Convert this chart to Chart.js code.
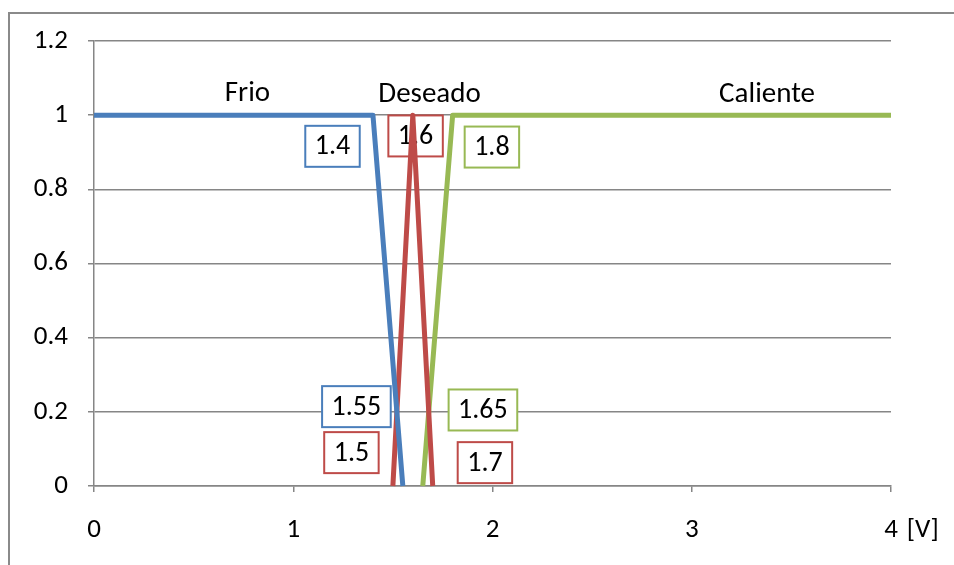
<!DOCTYPE html>
<html>
<head>
<meta charset="utf-8">
<script src="https://cdn.jsdelivr.net/npm/chart.js@4.4.1/dist/chart.umd.min.js"></script>
<style>
  html, body { margin: 0; padding: 0; background: #fff; overflow: hidden; }
  #wrap { position: relative; width: 954px; height: 565px; }
</style>
</head>
<body>
<div id="wrap"><canvas id="c" width="954" height="565"></canvas></div>
<script>
// ---- data ----
const xTicks = [0, 1, 2, 3, 4];
const yTicks = [0, 0.2, 0.4, 0.6, 0.8, 1, 1.2];
const seriesNames = ['Frio', 'Deseado', 'Caliente'];
const frioX = [0, 1.4, 1.55];
const frioY = [1, 1, 0];
const deseadoX = [1.5, 1.6, 1.7];
const deseadoY = [0, 1, 0];
const calienteX = [1.65, 1.8, 4];
const calienteY = [0, 1, 1];
const unitLabel = '[V]';

// ---- styles / placement (not data) ----
const colors = ['#4A7EBB', '#BE4B48', '#98B954'];
const FONT = 'Carlito, Lato, "Open Sans", sans-serif';
const FS = 27;      // tick labels
const FS_NAME = 29; // series names
const FS_BOX = 28;  // boxed values
// name label anchors (data coords)
const namePos = [[0.770, 1.057], [1.684, 1.054], [3.378, 1.054]];
// breakpoint boxes: [series index, point index, x, y]
const boxPos = [
  [0, 1, 1.197, 0.916],
  [1, 1, 1.614, 0.944],
  [2, 1, 1.997, 0.914],
  [0, 2, 1.317, 0.214],
  [1, 0, 1.292, 0.090],
  [2, 0, 1.952, 0.205],
  [1, 2, 1.962, 0.063]
];
const seriesX = [frioX, deseadoX, calienteX];
const seriesY = [frioY, deseadoY, calienteY];

function pts(xs, ys) { return xs.map((x, i) => ({ x: x, y: ys[i] })); }

const framePlugin = {
  id: 'frame',
  beforeDraw(chart) {
    const ctx = chart.ctx;
    ctx.save();
    ctx.strokeStyle = '#8a8a8a';
    ctx.lineWidth = 2;
    ctx.strokeRect(9, 13, 2000, 2000);
    ctx.restore();
  }
};

const labelPlugin = {
  id: 'labels',
  beforeDatasetsDraw(chart) {
    const ctx = chart.ctx;
    const xs = chart.scales.x, ys = chart.scales.y;
    ctx.save();
    ctx.textAlign = 'center';
    ctx.textBaseline = 'middle';
    ctx.fillStyle = '#000';
    // series names
    ctx.font = FS_NAME + 'px ' + FONT;
    seriesNames.forEach((n, i) => {
      ctx.fillText(n, xs.getPixelForValue(namePos[i][0]), ys.getPixelForValue(namePos[i][1]));
    });
    // breakpoint boxes
    ctx.font = FS_BOX + 'px ' + FONT;
    boxPos.forEach(b => {
      const txt = String(seriesX[b[0]][b[1]]);
      const cx = xs.getPixelForValue(b[2]);
      const cy = ys.getPixelForValue(b[3]);
      const w = ctx.measureText(txt).width + 19;
      const h = 41;
      ctx.fillStyle = '#fff';
      ctx.fillRect(cx - w / 2, cy - h / 2, w, h);
      ctx.strokeStyle = colors[b[0]];
      ctx.lineWidth = 2;
      ctx.strokeRect(cx - w / 2, cy - h / 2, w, h);
      ctx.fillStyle = '#000';
      ctx.fillText(txt, cx, cy + 1);
    });
    ctx.restore();
  },
  afterDraw(chart) {
    const ctx = chart.ctx;
    const xs = chart.scales.x;
    ctx.save();
    ctx.font = FS + 'px ' + FONT;
    ctx.textBaseline = 'middle';
    ctx.fillStyle = '#000';
    const lastX = xTicks[xTicks.length - 1];
    const lw = ctx.measureText(String(lastX)).width;
    ctx.textAlign = 'left';
    ctx.fillText(unitLabel, xs.getPixelForValue(lastX) + lw / 2 + 9, 530);
    ctx.restore();
  }
};

new Chart(document.getElementById('c'), {
  type: 'scatter',
  data: {
    datasets: seriesNames.map((n, i) => ({
      label: n,
      data: pts(seriesX[i], seriesY[i]),
      showLine: true,
      borderColor: colors[i],
      backgroundColor: colors[i],
      borderWidth: 5,
      pointRadius: 0,
      pointHoverRadius: 0,
      borderJoinStyle: 'round',
      borderCapStyle: 'butt',
      tension: 0,
      clip: false
    }))
  },
  options: {
    responsive: false,
    animation: false,
    events: [],
    layout: { padding: { left: 0, top: 41, right: 63, bottom: 0 } },
    plugins: { legend: { display: false }, tooltip: { enabled: false } },
    scales: {
      x: {
        type: 'linear',
        min: 0, max: 4,
        afterFit(s) { s.height = 79; },
        afterBuildTicks(s) { s.ticks = xTicks.map(v => ({ value: v })); },
        ticks: { color: '#000', font: { family: FONT, size: FS }, padding: 22, maxRotation: 0 },
        grid: { drawOnChartArea: false, drawTicks: true, tickLength: 6, color: '#868686', lineWidth: 1.5 },
        border: { display: true, color: '#868686', width: 1.5 }
      },
      y: {
        type: 'linear',
        min: 0, max: 1.2,
        afterFit(s) { s.width = 94; },
        afterBuildTicks(s) { s.ticks = yTicks.map(v => ({ value: v })); },
        ticks: { color: '#000', font: { family: FONT, size: FS }, padding: 20, callback: v => String(+v.toFixed(1)) },
        grid: { drawOnChartArea: true, drawTicks: true, tickLength: 6, color: '#868686', lineWidth: 1.5 },
        border: { display: true, color: '#868686', width: 1.5 }
      }
    }
  },
  plugins: [framePlugin, labelPlugin]
});
</script>
</body>
</html>
